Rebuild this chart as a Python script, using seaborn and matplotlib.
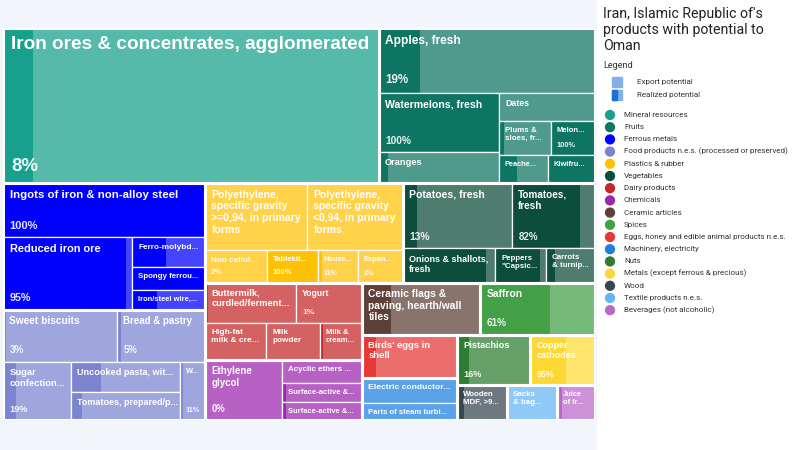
import numpy as np
import matplotlib
matplotlib.use("Agg")
import matplotlib.pyplot as plt
import seaborn as sns
from matplotlib.colors import to_rgb

sns.set_theme(style="white")
plt.rcParams['font.family'] = ['Liberation Sans', 'DejaVu Sans']

# ---------------- data ----------------
title = "Iran, Islamic Republic of's\nproducts with potential to\nOman"

categories = ["Mineral resources", "Fruits", "Ferrous metals",
              "Food products n.e.s. (processed or preserved)", "Plastics & rubber",
              "Vegetables", "Dairy products", "Chemicals", "Ceramic articles", "Spices",
              "Eggs, honey and edible animal products n.e.s.", "Machinery, electricity",
              "Nuts", "Metals (except ferrous & precious)", "Wood",
              "Textile products n.e.s.", "Beverages (not alcoholic)"]
cat_colors = ["#17a08b", "#0f7563", "#0000ff", "#7c84d0", "#ffc107", "#0d4d3b",
              "#c62828", "#9c27b0", "#5d4037", "#43a047", "#e53935", "#1e7fe0",
              "#2e7d32", "#fdd835", "#37474f", "#64b5f6", "#ba68c8"]

products = [
    "Iron ores & concentrates, agglomerated",
    "Apples, fresh", "Watermelons, fresh", "Oranges", "Dates", "Plums &\nsloes, fr...",
    "Melon...", "Peache...", "Kiwifru...",
    "Ingots of iron & non-alloy steel", "Reduced iron ore", "Ferro-molybd...",
    "Spongy ferrou...", "Iron/steel wire,...",
    "Sweet biscuits", "Bread & pastry", "Sugar\nconfection...", "Uncooked pasta, wit...",
    "Tomatoes, prepared/p...", "W...",
    "Polyethylene,\nspecific gravity\n>=0,94, in primary\nforms",
    "Polyethylene,\nspecific gravity\n<0,94, in primary\nforms",
    "Non cellul...", "Tablekit...", "House...", "Expan...",
    "Potatoes, fresh", "Tomatoes,\nfresh", "Onions & shallots,\nfresh",
    "Peppers\n\"Capsic...", "Carrots\n& turnip...",
    "Buttermilk,\ncurdled/ferment...", "Yogurt", "High-fat\nmilk & cre...",
    "Milk\npowder", "Milk &\ncream...",
    "Ethylene\nglycol", "Acyclic ethers ...", "Surface-active &...", "Surface-active &...",
    "Ceramic flags &\npaving, hearth/wall\ntiles",
    "Saffron", "Birds' eggs in\nshell", "Electric conductor...", "Parts of steam turbi...",
    "Pistachios", "Copper\ncathodes", "Wooden\nMDF, >9...", "Sacks\n& bag...", "Juice\nof fr...",
]
product_cat = [0,
               1, 1, 1, 1, 1, 1, 1, 1,
               2, 2, 2, 2, 2,
               3, 3, 3, 3, 3, 3,
               4, 4, 4, 4, 4, 4,
               5, 5, 5, 5, 5,
               6, 6, 6, 6, 6,
               7, 7, 7, 7,
               8, 9, 10, 11, 11, 12, 13, 14, 15, 16]
export_potential = [5813,
                    1404, 708, 372, 269, 177, 150, 137, 132,
                    1091, 929, 212, 168, 146,
                    593, 458, 394, 327, 305, 145,
                    683, 643, 198, 163, 128, 144,
                    709, 540, 313, 173, 167,
                    364, 264, 226, 200, 155,
                    462, 184, 152, 144,
                    614, 598, 409, 238, 162, 365, 325, 175, 175, 133]
realized_pct = [8,
                19, 100, 8, 0, 11, 100, 37, 100,
                100, 95, 47, 100, 34,
                3, 5, 19, 28, 10, 11,
                0, 0, 2, 100, 11, 2,
                13, 82, 90, 88, 18,
                3, 1, 4, 0, 6,
                0, 0, 5, 5,
                25, 61, 15, 0, 0, 16, 55, 13, 0, 12]
pct_shown = [True,
             True, True, False, False, False, True, False, False,
             True, True, False, False, False,
             True, True, True, False, False, True,
             False, False, True, True, True, True,
             True, True, False, False, False,
             False, True, False, False, False,
             True, False, False, False,
             False, True, False, False, False, True, True, False, False, False]

# nesting of the treemap (h = side by side, v = stacked)
layout = ('v', [
    ('h', [0, ('v', [1, ('h', [('v', [2, 3]), ('v', [4, ('h', [5, 6]), ('h', [7, 8])])])])]),
    ('h', [
        ('v', [('v', [9, ('h', [10, ('v', [11, 12, 13])])]),
               ('v', [('h', [14, 15]), ('h', [16, ('v', [17, 18]), 19])])]),
        ('v', [
            ('h', [('v', [('h', [20, 21]), ('h', [22, 23, 24, 25])]),
                   ('v', [('h', [26, 27]), ('h', [28, 29, 30])])]),
            ('h', [
                ('v', [('v', [('h', [31, 32]), ('h', [33, 34, 35])]),
                       ('h', [36, ('v', [37, 38, 39])])]),
                ('v', [('h', [40, 41]),
                       ('h', [('v', [42, ('v', [43, 44])]),
                              ('v', [('h', [45, 46]), ('h', [47, 48, 49])])])]),
            ]),
        ]),
    ]),
])


def total(node):
    if isinstance(node, int):
        return export_potential[node]
    return sum(total(c) for c in node[1])


rects = {}


def place(node, x, y, w, h):
    if isinstance(node, int):
        rects[node] = (x, y, w, h)
        return
    d, kids = node
    tot = total(node)
    off = 0.0
    for k in kids:
        f = total(k) / tot
        if d == 'h':
            place(k, x + off * w, y, w * f, h)
        else:
            place(k, x, y + off * h, w, h * f)
        off += f


place(layout, 0.0, 0.0, 1.0, 1.0)


def lighten(c, a=0.27):
    r = np.array(to_rgb(c))
    return tuple(r + (1 - r) * a)


# ---------------- figure ----------------
W, H = 800, 450
fig = plt.figure(figsize=(8, 4.5), dpi=100)
fig.patch.set_facecolor("#f2f5fa")

AXW, AXH = 592, 392
ax = fig.add_axes([3 / W, 30 / H, AXW / W, AXH / H])
ax.set_xlim(0, 1)
ax.set_ylim(1, 0)
ax.axis('off')

for i in range(len(products)):
    x, y, w, h = rects[i]
    c = cat_colors[product_cat[i]]
    ax.bar(x, h, width=w, bottom=y, align='edge', color=lighten(c), linewidth=0)
    frac = realized_pct[i] / 100.0
    if frac > 0:
        ax.bar(x, h, width=w * frac, bottom=y, align='edge', color=c, linewidth=0)
    ax.bar(x, h, width=w, bottom=y, align='edge', fill=False, edgecolor='white', linewidth=0.9)

    area = (w * AXW) * (h * AXH)
    f_log = 5.5 + 1.35 * (np.log(area) - 7.33)
    f_pow = 0.367 * area ** 0.33
    fs = float(np.clip(max(f_log, f_pow), 5.0, 13.7))
    pad = 3.4 + 0.17 * fs
    ax.annotate(products[i], xy=(x, y), xytext=(pad, -pad), textcoords='offset points',
                ha='left', va='top', fontsize=fs, fontweight='bold', color='white',
                linespacing=1.2, annotation_clip=False)
    if pct_shown[i]:
        ax.annotate(f"{realized_pct[i]}%", xy=(x, y + h), xytext=(pad, pad),
                    textcoords='offset points', ha='left', va='bottom',
                    fontsize=fs * 0.98, fontweight='bold', color='white', alpha=0.9)

# category borders
for ci in range(len(categories)):
    idx = [i for i in range(len(products)) if product_cat[i] == ci]
    x0 = min(rects[i][0] for i in idx)
    y0 = min(rects[i][1] for i in idx)
    x1 = max(rects[i][0] + rects[i][2] for i in idx)
    y1 = max(rects[i][1] + rects[i][3] for i in idx)
    ax.bar(x0, y1 - y0, width=x1 - x0, bottom=y0, align='edge', fill=False,
           edgecolor='white', linewidth=2.2)

# ---------------- legend panel ----------------
lg = fig.add_axes([597 / W, 0, (W - 597) / W, 1])
lg.set_facecolor('white')
lg.set_xlim(597, W)
lg.set_ylim(H, 0)
lg.axis('off')
lg.add_patch(plt.Rectangle((597, 0), W - 597, H, color='white', zorder=0))

lg.text(603, 7, title, fontsize=10.2, family=['Roboto', 'DejaVu Sans'], color='#222222',
        va='top', ha='left', linespacing=1.18)
lg.text(603, 65, "Legend", fontsize=6.6, family=['Roboto', 'DejaVu Sans'],
        color='#333333', va='center')

blue = "#1e6fd6"
lg.add_patch(plt.Rectangle((612, 77), 10, 10, color=lighten(blue, 0.45)))
lg.add_patch(plt.Rectangle((612, 90), 10, 10, color=lighten(blue, 0.45)))
lg.add_patch(plt.Rectangle((612, 90), 5, 10, color=blue))
lg.text(637, 82, "Export potential", fontsize=5.8, family=['Roboto', 'DejaVu Sans'],
        color='#333333', va='center')
lg.text(637, 95, "Realized potential", fontsize=5.8, family=['Roboto', 'DejaVu Sans'],
        color='#333333', va='center')

ys = 115 + 12.2 * np.arange(len(categories))
lg.scatter(np.full(len(categories), 610), ys, s=55, c=cat_colors, linewidths=0)
for yv, name in zip(ys, categories):
    lg.text(624, yv, name, fontsize=5.8, family=['Roboto', 'DejaVu Sans'],
            color='#333333', va='center')

fig.savefig("out.png", dpi=100, facecolor=fig.get_facecolor())
